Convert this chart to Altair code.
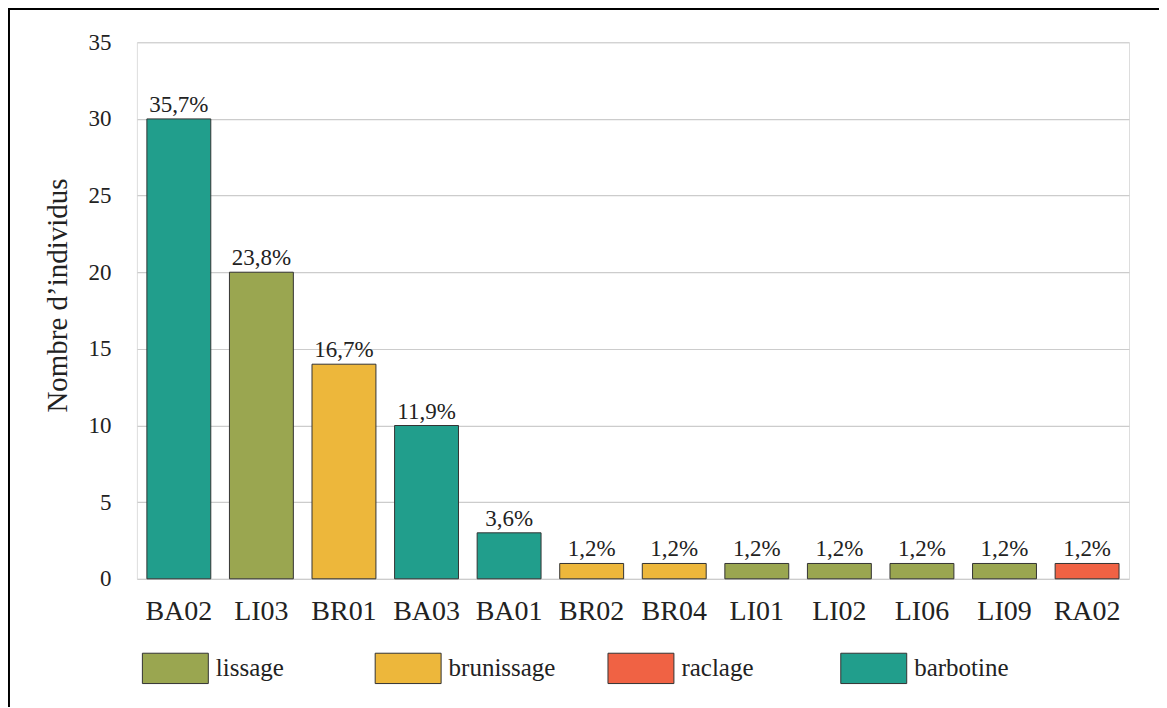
import altair as alt
import pandas as pd

codes = ["BA02", "LI03", "BR01", "BA03", "BA01", "BR02", "BR04", "LI01", "LI02", "LI06", "LI09", "RA02"]
counts = [30, 20, 14, 10, 3, 1, 1, 1, 1, 1, 1, 1]
techniques = ["barbotine", "lissage", "brunissage", "barbotine", "barbotine", "brunissage",
              "brunissage", "lissage", "lissage", "lissage", "lissage", "raclage"]
percent_labels = ["35,7%", "23,8%", "16,7%", "11,9%", "3,6%", "1,2%", "1,2%", "1,2%",
                  "1,2%", "1,2%", "1,2%", "1,2%"]
legend_order = ["lissage", "brunissage", "raclage", "barbotine"]
legend_colors = ["#9aa650", "#edb73b", "#f06244", "#219e8c"]
y_ticks = [0, 5, 10, 15, 20, 25, 30, 35]

df = pd.DataFrame({"code": codes, "n": counts, "tech": techniques, "pct": percent_labels})

FONT = "Liberation Serif"
TXT = "#222222"

x_enc = alt.X("code:N", sort=codes, title=None,
              scale=alt.Scale(paddingInner=0.226, paddingOuter=0.121),
              axis=alt.Axis(labelFont=FONT, labelFontSize=28, labelColor=TXT, labelAngle=0,
                            labelPadding=19, ticks=False, domain=False, grid=False))
y_enc = alt.Y("n:Q", title="Nombre d\u2019individus",
              scale=alt.Scale(domain=[0, 35], nice=False),
              axis=alt.Axis(values=y_ticks, labelFont=FONT, labelFontSize=23, labelColor=TXT,
                            labelPadding=26, ticks=False, domain=False, grid=True,
                            gridColor="#cccccc", gridWidth=1.2,
                            titleFont=FONT, titleFontSize=29, titleFontWeight="normal",
                            titleColor=TXT, titleX=-79, titleY=253, titleAngle=-90,
                            titleAlign="center", titleBaseline="middle"))

bars = alt.Chart(df).mark_bar(stroke="#333333", strokeWidth=1).encode(
    x=x_enc,
    y=y_enc,
    color=alt.Color("tech:N",
                    scale=alt.Scale(domain=legend_order, range=legend_colors),
                    legend=alt.Legend(title=None, orient="none", legendX=5, legendY=593,
                                      direction="horizontal", columns=4, gridAlign="all",
                                      columnPadding=50, padding=0,
                                      symbolType="M-1,-0.46H1V0.46H-1Z", symbolSize=4356,
                                      symbolStrokeColor="#333333", symbolStrokeWidth=1,
                                      symbolOpacity=1, labelOffset=7,
                                      labelFont=FONT, labelFontSize=25, labelColor=TXT,
                                      labelLimit=300)),
)

labels = alt.Chart(df).mark_text(font=FONT, fontSize=23, color=TXT, baseline="alphabetic",
                                 dy=-7).encode(
    x=alt.X("code:N", sort=codes),
    y=alt.Y("n:Q"),
    text="pct:N",
)

frame_left = alt.Chart(df).mark_rule(color="#000000", strokeWidth=1.5).encode(
    x=alt.value(-128.5), y=alt.value(-34), y2=alt.value(720))
frame_top = alt.Chart(df).mark_rule(color="#000000", strokeWidth=1.5).encode(
    x=alt.value(-129), x2=alt.value(1100), y=alt.value(-33.5))

chart = alt.layer(bars, labels, frame_left, frame_top).properties(
    width=993, height=537,
    autosize=alt.AutoSizeParams(type="none"),
    padding={"left": 129, "top": 34, "right": 30, "bottom": 128},
).configure_view(stroke=None).configure(background="white")

chart.save("out.html", embed_options={"renderer": "svg", "actions": False})
